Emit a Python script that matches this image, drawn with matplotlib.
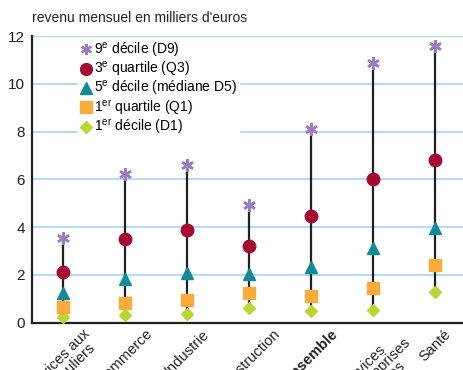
import matplotlib
matplotlib.use("Agg")
import matplotlib.pyplot as plt
from matplotlib.lines import Line2D

plt.rcParams['font.family'] = ['Liberation Sans Narrow', 'Liberation Sans', 'DejaVu Sans']
plt.rcParams['mathtext.fontset'] = 'custom'
plt.rcParams['mathtext.rm'] = 'Liberation Sans'

# Secteurs et déciles / quartiles (milliers d'euros par mois)
sectors = ["Services aux\nparticuliers", "Commerce", "Industrie", "Construction",
           "Ensemble", "Services\naux entreprises\net mixtes", "Santé"]
d9 = [3.55, 6.21, 6.59, 4.91, 8.10, 10.88, 11.58]
q3 = [2.14, 3.52, 3.90, 3.22, 4.45, 6.00, 6.80]
d5 = [1.24, 1.82, 2.08, 2.05, 2.33, 3.13, 3.95]
q1 = [0.67, 0.84, 0.93, 1.23, 1.12, 1.47, 2.42]
d1 = [0.25, 0.31, 0.35, 0.62, 0.50, 0.55, 1.29]

labels = ["9$^{\\mathrm{e}}$ décile (D9)", "3$^{\\mathrm{e}}$ quartile (Q3)",
          "5$^{\\mathrm{e}}$ décile (médiane D5)", "1$^{\\mathrm{er}}$ quartile (Q1)",
          "1$^{\\mathrm{er}}$ décile (D1)"]

fig = plt.figure(figsize=(4.63, 3.70), dpi=100)
ax = fig.add_axes([0.069, 0.128, 0.937, 0.774])

x = list(range(len(sectors)))

# barres verticales D1 -> D9
ax.vlines(x, d1, d9, color='#231f20', lw=1.6, zorder=2)

ax.plot(x, d1, ls='none', marker='D', ms=6.5, color='#bcd531', mec='#bcd531', zorder=3)
ax.plot(x, q1, ls='none', marker='s', ms=9, color='#f9ab3c', mec='#f9ab3c', zorder=3)
ax.plot(x, d5, ls='none', marker='^', ms=9, color='#138b96', mec='#138b96', zorder=3)
ax.plot(x, q3, ls='none', marker='o', ms=9, color='#a60a32', mec='#a60a32', zorder=3)
ax.plot(x, d9, ls='none', marker=(6, 2, 0), ms=9, color='#9a7cc1', mec='#9a7cc1',
        mew=1.8, zorder=3)

ax.set_xlim(-0.5, 6.5)
ax.set_ylim(0, 12)
ax.set_yticks(range(0, 13, 2))
ax.yaxis.grid(True, color='#a8d6ef', lw=1.2)
ax.set_axisbelow(True)
for s in ['top', 'right']:
    ax.spines[s].set_visible(False)
for s in ['left', 'bottom']:
    ax.spines[s].set_linewidth(1.6)
    ax.spines[s].set_color('#231f20')
ax.tick_params(length=0, labelsize=11, pad=5, colors='#231f20')
ax.set_xticks(x)
ax.set_xticklabels(sectors, rotation=45, ha='center', va='top', fontsize=10.5,
                   linespacing=0.9)
ax.get_xticklabels()[4].set_fontweight('bold')
ax.tick_params(axis='x', pad=3)

handles = [
    Line2D([], [], ls='none', marker=(6, 2, 0), ms=8, color='#9a7cc1', mew=1.6),
    Line2D([], [], ls='none', marker='o', ms=8.5, color='#a60a32'),
    Line2D([], [], ls='none', marker='^', ms=8.5, color='#138b96'),
    Line2D([], [], ls='none', marker='s', ms=8.5, color='#f9ab3c'),
    Line2D([], [], ls='none', marker='D', ms=6, color='#bcd531'),
]
leg = fig.legend(handles, labels, loc='upper left', bbox_to_anchor=(0.168, 0.898),
                 frameon=True, fontsize=10, handlelength=0.8, handletextpad=0.15,
                 labelspacing=0.02, borderpad=0.2, borderaxespad=0)
leg.get_frame().set_edgecolor('white')
leg.get_frame().set_facecolor('white')
leg.get_frame().set_alpha(1)
leg.get_frame().set_boxstyle('square', pad=0)

fig.text(0.069, 0.94, "revenu mensuel en milliers d'euros", fontsize=10,
         color='#231f20', va='baseline')

fig.savefig("out.png", dpi=100)
